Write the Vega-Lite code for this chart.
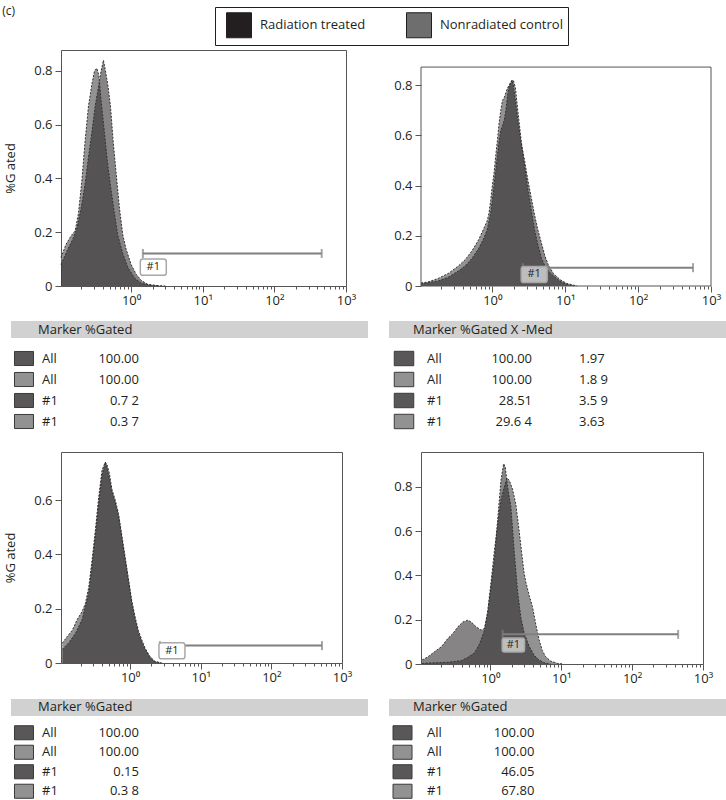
{
"$schema": "https://vega.github.io/schema/vega-lite/v6.json",
"padding": {"left": 2, "top": 4, "right": 0, "bottom": 0},
"title": {"text": "(c)", "anchor": "start", "frame": "bounds", "fontSize": 12, "fontWeight": "normal", "font": "Open Sans", "color": "#231f20", "offset": -11, "dx": -2},
"config": {
  "font": "Open Sans",
  "view": {"stroke": "#555555", "strokeWidth": 1},
  "axis": {"domain": false, "grid": false, "labelFont": "Open Sans", "labelFontSize": 13, "labelColor": "#231f20", "tickColor": "#555555", "titleFont": "Open Sans", "titleFontWeight": "normal", "titleFontSize": 13, "titleColor": "#231f20"}
},
"datasets": {
  "hist": [
    {"p":"TL","s":"Nonradiated control","x":0.105,"y":0.106},
    {"p":"TL","s":"Nonradiated control","x":0.124,"y":0.156},
    {"p":"TL","s":"Nonradiated control","x":0.1455,"y":0.187},
    {"p":"TL","s":"Nonradiated control","x":0.1655,"y":0.205},
    {"p":"TL","s":"Nonradiated control","x":0.184,"y":0.27},
    {"p":"TL","s":"Nonradiated control","x":0.205,"y":0.39},
    {"p":"TL","s":"Nonradiated control","x":0.228,"y":0.54},
    {"p":"TL","s":"Nonradiated control","x":0.254,"y":0.67},
    {"p":"TL","s":"Nonradiated control","x":0.283,"y":0.75},
    {"p":"TL","s":"Nonradiated control","x":0.308,"y":0.80},
    {"p":"TL","s":"Nonradiated control","x":0.332,"y":0.81},
    {"p":"TL","s":"Nonradiated control","x":0.354,"y":0.785},
    {"p":"TL","s":"Nonradiated control","x":0.381,"y":0.69},
    {"p":"TL","s":"Nonradiated control","x":0.4245,"y":0.57},
    {"p":"TL","s":"Nonradiated control","x":0.472,"y":0.45},
    {"p":"TL","s":"Nonradiated control","x":0.526,"y":0.355},
    {"p":"TL","s":"Nonradiated control","x":0.585,"y":0.27},
    {"p":"TL","s":"Nonradiated control","x":0.651,"y":0.19},
    {"p":"TL","s":"Nonradiated control","x":0.766,"y":0.12},
    {"p":"TL","s":"Nonradiated control","x":0.898,"y":0.07},
    {"p":"TL","s":"Nonradiated control","x":1.113,"y":0.03},
    {"p":"TL","s":"Nonradiated control","x":1.379,"y":0.01},
    {"p":"TL","s":"Nonradiated control","x":1.9,"y":0.003},
    {"p":"TL","s":"Nonradiated control","x":3.0,"y":0},
    {"p":"TL","s":"Radiation treated","x":0.105,"y":0.08},
    {"p":"TL","s":"Radiation treated","x":0.1306,"y":0.137},
    {"p":"TL","s":"Radiation treated","x":0.1535,"y":0.174},
    {"p":"TL","s":"Radiation treated","x":0.1765,"y":0.218},
    {"p":"TL","s":"Radiation treated","x":0.2006,"y":0.29},
    {"p":"TL","s":"Radiation treated","x":0.228,"y":0.38},
    {"p":"TL","s":"Radiation treated","x":0.254,"y":0.48},
    {"p":"TL","s":"Radiation treated","x":0.283,"y":0.57},
    {"p":"TL","s":"Radiation treated","x":0.315,"y":0.67},
    {"p":"TL","s":"Radiation treated","x":0.35,"y":0.74},
    {"p":"TL","s":"Radiation treated","x":0.381,"y":0.80},
    {"p":"TL","s":"Radiation treated","x":0.411,"y":0.84},
    {"p":"TL","s":"Radiation treated","x":0.4385,"y":0.80},
    {"p":"TL","s":"Radiation treated","x":0.472,"y":0.75},
    {"p":"TL","s":"Radiation treated","x":0.515,"y":0.67},
    {"p":"TL","s":"Radiation treated","x":0.561,"y":0.54},
    {"p":"TL","s":"Radiation treated","x":0.6175,"y":0.42},
    {"p":"TL","s":"Radiation treated","x":0.687,"y":0.29},
    {"p":"TL","s":"Radiation treated","x":0.766,"y":0.19},
    {"p":"TL","s":"Radiation treated","x":0.8515,"y":0.137},
    {"p":"TL","s":"Radiation treated","x":1.0,"y":0.08},
    {"p":"TL","s":"Radiation treated","x":1.175,"y":0.044},
    {"p":"TL","s":"Radiation treated","x":1.379,"y":0.021},
    {"p":"TL","s":"Radiation treated","x":1.708,"y":0.006},
    {"p":"TL","s":"Radiation treated","x":2.5,"y":0},

    {"p":"TR","s":"Nonradiated control","x":0.105,"y":0.012},
    {"p":"TR","s":"Nonradiated control","x":0.1306,"y":0.016},
    {"p":"TR","s":"Nonradiated control","x":0.18,"y":0.03},
    {"p":"TR","s":"Nonradiated control","x":0.2485,"y":0.05},
    {"p":"TR","s":"Nonradiated control","x":0.3428,"y":0.08},
    {"p":"TR","s":"Nonradiated control","x":0.4245,"y":0.105},
    {"p":"TR","s":"Nonradiated control","x":0.526,"y":0.14},
    {"p":"TR","s":"Nonradiated control","x":0.6514,"y":0.185},
    {"p":"TR","s":"Nonradiated control","x":0.7655,"y":0.23},
    {"p":"TR","s":"Nonradiated control","x":0.8515,"y":0.26},
    {"p":"TR","s":"Nonradiated control","x":0.8985,"y":0.29},
    {"p":"TR","s":"Nonradiated control","x":0.948,"y":0.34},
    {"p":"TR","s":"Nonradiated control","x":1.0,"y":0.40},
    {"p":"TR","s":"Nonradiated control","x":1.055,"y":0.45},
    {"p":"TR","s":"Nonradiated control","x":1.113,"y":0.52},
    {"p":"TR","s":"Nonradiated control","x":1.174,"y":0.58},
    {"p":"TR","s":"Nonradiated control","x":1.239,"y":0.65},
    {"p":"TR","s":"Nonradiated control","x":1.307,"y":0.70},
    {"p":"TR","s":"Nonradiated control","x":1.379,"y":0.74},
    {"p":"TR","s":"Nonradiated control","x":1.455,"y":0.75},
    {"p":"TR","s":"Nonradiated control","x":1.535,"y":0.77},
    {"p":"TR","s":"Nonradiated control","x":1.619,"y":0.79},
    {"p":"TR","s":"Nonradiated control","x":1.708,"y":0.80},
    {"p":"TR","s":"Nonradiated control","x":1.802,"y":0.815},
    {"p":"TR","s":"Nonradiated control","x":1.942,"y":0.82},
    {"p":"TR","s":"Nonradiated control","x":2.071,"y":0.79},
    {"p":"TR","s":"Nonradiated control","x":2.233,"y":0.70},
    {"p":"TR","s":"Nonradiated control","x":2.485,"y":0.58},
    {"p":"TR","s":"Nonradiated control","x":2.766,"y":0.48},
    {"p":"TR","s":"Nonradiated control","x":3.079,"y":0.38},
    {"p":"TR","s":"Nonradiated control","x":3.427,"y":0.30},
    {"p":"TR","s":"Nonradiated control","x":3.814,"y":0.22},
    {"p":"TR","s":"Nonradiated control","x":4.245,"y":0.16},
    {"p":"TR","s":"Nonradiated control","x":4.724,"y":0.11},
    {"p":"TR","s":"Nonradiated control","x":5.258,"y":0.08},
    {"p":"TR","s":"Nonradiated control","x":5.852,"y":0.06},
    {"p":"TR","s":"Nonradiated control","x":6.872,"y":0.04},
    {"p":"TR","s":"Nonradiated control","x":8.516,"y":0.018},
    {"p":"TR","s":"Nonradiated control","x":10.55,"y":0.006},
    {"p":"TR","s":"Nonradiated control","x":13.07,"y":0},
    {"p":"TR","s":"Radiation treated","x":0.105,"y":0.008},
    {"p":"TR","s":"Radiation treated","x":0.1803,"y":0.02},
    {"p":"TR","s":"Radiation treated","x":0.2485,"y":0.035},
    {"p":"TR","s":"Radiation treated","x":0.3428,"y":0.06},
    {"p":"TR","s":"Radiation treated","x":0.4245,"y":0.08},
    {"p":"TR","s":"Radiation treated","x":0.526,"y":0.11},
    {"p":"TR","s":"Radiation treated","x":0.6514,"y":0.15},
    {"p":"TR","s":"Radiation treated","x":0.7655,"y":0.19},
    {"p":"TR","s":"Radiation treated","x":0.8515,"y":0.225},
    {"p":"TR","s":"Radiation treated","x":0.948,"y":0.29},
    {"p":"TR","s":"Radiation treated","x":1.0,"y":0.34},
    {"p":"TR","s":"Radiation treated","x":1.055,"y":0.40},
    {"p":"TR","s":"Radiation treated","x":1.113,"y":0.46},
    {"p":"TR","s":"Radiation treated","x":1.174,"y":0.52},
    {"p":"TR","s":"Radiation treated","x":1.239,"y":0.58},
    {"p":"TR","s":"Radiation treated","x":1.307,"y":0.62},
    {"p":"TR","s":"Radiation treated","x":1.379,"y":0.64},
    {"p":"TR","s":"Radiation treated","x":1.455,"y":0.66},
    {"p":"TR","s":"Radiation treated","x":1.535,"y":0.70},
    {"p":"TR","s":"Radiation treated","x":1.619,"y":0.76},
    {"p":"TR","s":"Radiation treated","x":1.708,"y":0.80},
    {"p":"TR","s":"Radiation treated","x":1.802,"y":0.81},
    {"p":"TR","s":"Radiation treated","x":1.861,"y":0.82},
    {"p":"TR","s":"Radiation treated","x":1.942,"y":0.80},
    {"p":"TR","s":"Radiation treated","x":2.071,"y":0.74},
    {"p":"TR","s":"Radiation treated","x":2.233,"y":0.66},
    {"p":"TR","s":"Radiation treated","x":2.485,"y":0.57},
    {"p":"TR","s":"Radiation treated","x":2.766,"y":0.50},
    {"p":"TR","s":"Radiation treated","x":3.079,"y":0.42},
    {"p":"TR","s":"Radiation treated","x":3.427,"y":0.35},
    {"p":"TR","s":"Radiation treated","x":3.814,"y":0.28},
    {"p":"TR","s":"Radiation treated","x":4.245,"y":0.22},
    {"p":"TR","s":"Radiation treated","x":4.724,"y":0.17},
    {"p":"TR","s":"Radiation treated","x":5.258,"y":0.12},
    {"p":"TR","s":"Radiation treated","x":5.852,"y":0.085},
    {"p":"TR","s":"Radiation treated","x":6.872,"y":0.05},
    {"p":"TR","s":"Radiation treated","x":8.516,"y":0.025},
    {"p":"TR","s":"Radiation treated","x":10.55,"y":0.01},
    {"p":"TR","s":"Radiation treated","x":14.55,"y":0},

    {"p":"BL","s":"Nonradiated control","x":0.1096,"y":0.073},
    {"p":"BL","s":"Nonradiated control","x":0.1288,"y":0.098},
    {"p":"BL","s":"Nonradiated control","x":0.1514,"y":0.12},
    {"p":"BL","s":"Nonradiated control","x":0.178,"y":0.16},
    {"p":"BL","s":"Nonradiated control","x":0.2094,"y":0.19},
    {"p":"BL","s":"Nonradiated control","x":0.2332,"y":0.22},
    {"p":"BL","s":"Nonradiated control","x":0.2598,"y":0.28},
    {"p":"BL","s":"Nonradiated control","x":0.2893,"y":0.38},
    {"p":"BL","s":"Nonradiated control","x":0.3223,"y":0.49},
    {"p":"BL","s":"Nonradiated control","x":0.3589,"y":0.61},
    {"p":"BL","s":"Nonradiated control","x":0.3998,"y":0.71},
    {"p":"BL","s":"Nonradiated control","x":0.4453,"y":0.74},
    {"p":"BL","s":"Nonradiated control","x":0.47,"y":0.73},
    {"p":"BL","s":"Nonradiated control","x":0.507,"y":0.70},
    {"p":"BL","s":"Nonradiated control","x":0.5523,"y":0.64},
    {"p":"BL","s":"Nonradiated control","x":0.6152,"y":0.60},
    {"p":"BL","s":"Nonradiated control","x":0.6853,"y":0.55},
    {"p":"BL","s":"Nonradiated control","x":0.7633,"y":0.47},
    {"p":"BL","s":"Nonradiated control","x":0.8502,"y":0.39},
    {"p":"BL","s":"Nonradiated control","x":0.9475,"y":0.31},
    {"p":"BL","s":"Nonradiated control","x":1.055,"y":0.23},
    {"p":"BL","s":"Nonradiated control","x":1.175,"y":0.17},
    {"p":"BL","s":"Nonradiated control","x":1.309,"y":0.12},
    {"p":"BL","s":"Nonradiated control","x":1.458,"y":0.086},
    {"p":"BL","s":"Nonradiated control","x":1.625,"y":0.055},
    {"p":"BL","s":"Nonradiated control","x":1.91,"y":0.024},
    {"p":"BL","s":"Nonradiated control","x":2.245,"y":0.006},
    {"p":"BL","s":"Nonradiated control","x":2.786,"y":0},
    {"p":"BL","s":"Radiation treated","x":0.1096,"y":0.05},
    {"p":"BL","s":"Radiation treated","x":0.136,"y":0.075},
    {"p":"BL","s":"Radiation treated","x":0.1687,"y":0.11},
    {"p":"BL","s":"Radiation treated","x":0.2094,"y":0.16},
    {"p":"BL","s":"Radiation treated","x":0.2598,"y":0.26},
    {"p":"BL","s":"Radiation treated","x":0.2893,"y":0.36},
    {"p":"BL","s":"Radiation treated","x":0.3223,"y":0.47},
    {"p":"BL","s":"Radiation treated","x":0.3589,"y":0.59},
    {"p":"BL","s":"Radiation treated","x":0.3998,"y":0.69},
    {"p":"BL","s":"Radiation treated","x":0.4453,"y":0.74},
    {"p":"BL","s":"Radiation treated","x":0.47,"y":0.72},
    {"p":"BL","s":"Radiation treated","x":0.507,"y":0.68},
    {"p":"BL","s":"Radiation treated","x":0.5523,"y":0.63},
    {"p":"BL","s":"Radiation treated","x":0.6152,"y":0.59},
    {"p":"BL","s":"Radiation treated","x":0.6853,"y":0.54},
    {"p":"BL","s":"Radiation treated","x":0.7633,"y":0.46},
    {"p":"BL","s":"Radiation treated","x":0.8502,"y":0.38},
    {"p":"BL","s":"Radiation treated","x":0.9475,"y":0.30},
    {"p":"BL","s":"Radiation treated","x":1.055,"y":0.22},
    {"p":"BL","s":"Radiation treated","x":1.175,"y":0.16},
    {"p":"BL","s":"Radiation treated","x":1.309,"y":0.11},
    {"p":"BL","s":"Radiation treated","x":1.458,"y":0.078},
    {"p":"BL","s":"Radiation treated","x":1.625,"y":0.05},
    {"p":"BL","s":"Radiation treated","x":1.91,"y":0.02},
    {"p":"BL","s":"Radiation treated","x":2.245,"y":0.004},
    {"p":"BL","s":"Radiation treated","x":2.786,"y":0},

    {"p":"BR","s":"Nonradiated control","x":0.1089,"y":0.003},
    {"p":"BR","s":"Nonradiated control","x":0.2522,"y":0.008},
    {"p":"BR","s":"Nonradiated control","x":0.388,"y":0.015},
    {"p":"BR","s":"Nonradiated control","x":0.4809,"y":0.03},
    {"p":"BR","s":"Nonradiated control","x":0.5966,"y":0.05},
    {"p":"BR","s":"Nonradiated control","x":0.7011,"y":0.09},
    {"p":"BR","s":"Nonradiated control","x":0.8238,"y":0.15},
    {"p":"BR","s":"Nonradiated control","x":0.9175,"y":0.24},
    {"p":"BR","s":"Nonradiated control","x":1.022,"y":0.37},
    {"p":"BR","s":"Nonradiated control","x":1.138,"y":0.51},
    {"p":"BR","s":"Nonradiated control","x":1.267,"y":0.63},
    {"p":"BR","s":"Nonradiated control","x":1.411,"y":0.74},
    {"p":"BR","s":"Nonradiated control","x":1.571,"y":0.80},
    {"p":"BR","s":"Nonradiated control","x":1.713,"y":0.84},
    {"p":"BR","s":"Nonradiated control","x":1.846,"y":0.83},
    {"p":"BR","s":"Nonradiated control","x":2.056,"y":0.79},
    {"p":"BR","s":"Nonradiated control","x":2.29,"y":0.72},
    {"p":"BR","s":"Nonradiated control","x":2.55,"y":0.60},
    {"p":"BR","s":"Nonradiated control","x":2.84,"y":0.47},
    {"p":"BR","s":"Nonradiated control","x":2.997,"y":0.41},
    {"p":"BR","s":"Nonradiated control","x":3.163,"y":0.37},
    {"p":"BR","s":"Nonradiated control","x":3.523,"y":0.31},
    {"p":"BR","s":"Nonradiated control","x":3.922,"y":0.26},
    {"p":"BR","s":"Nonradiated control","x":4.368,"y":0.18},
    {"p":"BR","s":"Nonradiated control","x":4.863,"y":0.11},
    {"p":"BR","s":"Nonradiated control","x":5.417,"y":0.06},
    {"p":"BR","s":"Nonradiated control","x":6.033,"y":0.033},
    {"p":"BR","s":"Nonradiated control","x":7.088,"y":0.013},
    {"p":"BR","s":"Nonradiated control","x":8.787,"y":0.003},
    {"p":"BR","s":"Nonradiated control","x":10.5,"y":0},
    {"p":"BR","s":"Radiation treated","x":0.1089,"y":0.018},
    {"p":"BR","s":"Radiation treated","x":0.1322,"y":0.033},
    {"p":"BR","s":"Radiation treated","x":0.1641,"y":0.056},
    {"p":"BR","s":"Radiation treated","x":0.2034,"y":0.078},
    {"p":"BR","s":"Radiation treated","x":0.2522,"y":0.116},
    {"p":"BR","s":"Radiation treated","x":0.2965,"y":0.138},
    {"p":"BR","s":"Radiation treated","x":0.3484,"y":0.168},
    {"p":"BR","s":"Radiation treated","x":0.4093,"y":0.19},
    {"p":"BR","s":"Radiation treated","x":0.4809,"y":0.198},
    {"p":"BR","s":"Radiation treated","x":0.5357,"y":0.19},
    {"p":"BR","s":"Radiation treated","x":0.6296,"y":0.168},
    {"p":"BR","s":"Radiation treated","x":0.7398,"y":0.153},
    {"p":"BR","s":"Radiation treated","x":0.8238,"y":0.16},
    {"p":"BR","s":"Radiation treated","x":0.9175,"y":0.23},
    {"p":"BR","s":"Radiation treated","x":1.022,"y":0.35},
    {"p":"BR","s":"Radiation treated","x":1.138,"y":0.47},
    {"p":"BR","s":"Radiation treated","x":1.267,"y":0.65},
    {"p":"BR","s":"Radiation treated","x":1.411,"y":0.83},
    {"p":"BR","s":"Radiation treated","x":1.538,"y":0.905},
    {"p":"BR","s":"Radiation treated","x":1.622,"y":0.89},
    {"p":"BR","s":"Radiation treated","x":1.75,"y":0.80},
    {"p":"BR","s":"Radiation treated","x":1.949,"y":0.71},
    {"p":"BR","s":"Radiation treated","x":2.17,"y":0.51},
    {"p":"BR","s":"Radiation treated","x":2.417,"y":0.33},
    {"p":"BR","s":"Radiation treated","x":2.692,"y":0.21},
    {"p":"BR","s":"Radiation treated","x":2.997,"y":0.14},
    {"p":"BR","s":"Radiation treated","x":3.523,"y":0.08},
    {"p":"BR","s":"Radiation treated","x":4.139,"y":0.04},
    {"p":"BR","s":"Radiation treated","x":4.863,"y":0.018},
    {"p":"BR","s":"Radiation treated","x":5.716,"y":0.006},
    {"p":"BR","s":"Radiation treated","x":7.088,"y":0}
  ],
  "markers": [
    {"p":"TL","x1":1.46,"x2":458,"y":0.121,"lx":2.04,"ly":0.07},
    {"p":"TR","x1":2.62,"x2":567,"y":0.073,"lx":3.75,"ly":0.046},
    {"p":"BL","x1":2.64,"x2":521,"y":0.064,"lx":3.91,"ly":0.045},
    {"p":"BR","x1":1.49,"x2":446,"y":0.134,"lx":2.11,"ly":0.086}
  ],
  "headers": [
    {"p":"TL","h":"Marker %Gated"},
    {"p":"TR","h":"Marker %Gated X -Med"},
    {"p":"BL","h":"Marker %Gated"},
    {"p":"BR","h":"Marker %Gated"}
  ],
  "tables": [
    {"p":"TL","r":1,"s":"Radiation treated","m":"All","g":"100.00","md":""},
    {"p":"TL","r":2,"s":"Nonradiated control","m":"All","g":"100.00","md":""},
    {"p":"TL","r":3,"s":"Radiation treated","m":"#1","g":"0.7 2","md":""},
    {"p":"TL","r":4,"s":"Nonradiated control","m":"#1","g":"0.3 7","md":""},
    {"p":"TR","r":1,"s":"Radiation treated","m":"All","g":"100.00","md":"1.97"},
    {"p":"TR","r":2,"s":"Nonradiated control","m":"All","g":"100.00","md":"1.8 9"},
    {"p":"TR","r":3,"s":"Radiation treated","m":"#1","g":"28.51","md":"3.5 9"},
    {"p":"TR","r":4,"s":"Nonradiated control","m":"#1","g":"29.6 4","md":"3.63"},
    {"p":"BL","r":1,"s":"Radiation treated","m":"All","g":"100.00","md":""},
    {"p":"BL","r":2,"s":"Nonradiated control","m":"All","g":"100.00","md":""},
    {"p":"BL","r":3,"s":"Radiation treated","m":"#1","g":"0.15","md":""},
    {"p":"BL","r":4,"s":"Nonradiated control","m":"#1","g":"0.3 8","md":""},
    {"p":"BR","r":1,"s":"Radiation treated","m":"All","g":"100.00","md":""},
    {"p":"BR","r":2,"s":"Nonradiated control","m":"All","g":"100.00","md":""},
    {"p":"BR","r":3,"s":"Radiation treated","m":"#1","g":"46.05","md":""},
    {"p":"BR","r":4,"s":"Nonradiated control","m":"#1","g":"67.80","md":""}
  ]
},
"columns": 2,
"bounds": "flush",
"spacing": {"row": 20, "column": 75},
"concat": [
  {
    "width": 285, "height": 236,
    "layer": [
      {"data": {"name": "hist"}, "transform": [{"filter": "datum.p == 'TL' && datum.s == 'Nonradiated control'"}],
       "mark": {"type": "area", "fillOpacity": 0.75},
       "encoding": {
         "x": {"field": "x", "type": "quantitative", "scale": {"type": "log", "domain": [0.105, 1000], "nice": false}, "axis": {"title": null, "values": [0.2,0.3,0.4,0.5,0.6,0.7,0.8,0.9,1,2,3,4,5,6,7,8,9,10,20,30,40,50,60,70,80,90,100,200,300,400,500,600,700,800,900,1000], "labelExpr": "datum.value == 1 ? '10⁰' : datum.value == 10 ? '10¹' : datum.value == 100 ? '10²' : datum.value == 1000 ? '10³' : ''", "tickSize": {"condition": {"test": "datum.value == 1 || datum.value == 10 || datum.value == 100 || datum.value == 1000", "value": 6}, "value": 3}, "labelPadding": 2, "labelFlush": false, "labelOverlap": false, "labelBound": false}},
         "y": {"field": "y", "type": "quantitative", "title": "%G ated", "scale": {"domain": [0, 0.878], "nice": false, "zero": true}, "axis": {"title": "%G ated", "titlePadding": 16, "values": [0,0.1,0.2,0.3,0.4,0.5,0.6,0.7,0.8], "labelExpr": "datum.value == 0 ? '0' : (round(datum.value*10) % 2 == 0 ? format(datum.value, '.1f') : '')", "tickSize": {"condition": {"test": "round(datum.value*10) % 2 == 0", "value": 6}, "value": 4}, "labelPadding": 3}},
         "fill": {"field": "s", "type": "nominal", "scale": {"domain": ["Radiation treated", "Nonradiated control"], "range": ["#231f20", "#6e6e6e"]}, "legend": {"title": null, "orient": "none", "legendX": 154, "legendY": -43, "direction": "horizontal", "strokeColor": "#231f20", "padding": 5, "symbolType": "square", "symbolSize": 625, "symbolStrokeColor": "#231f20", "symbolStrokeWidth": 1, "symbolOpacity": 1, "labelFontSize": 13, "labelFont": "Open Sans", "labelColor": "#231f20", "labelOffset": 8, "columnPadding": 34, "symbolOffset": 6}}
       }},
      {"data": {"name": "hist"}, "transform": [{"filter": "datum.p == 'TL' && datum.s == 'Radiation treated'"}],
       "mark": {"type": "area", "fillOpacity": 0.55},
       "encoding": {"x": {"field": "x", "type": "quantitative"}, "y": {"field": "y", "type": "quantitative", "title": "%G ated"}, "fill": {"field": "s", "type": "nominal"}}},
      {"data": {"name": "hist"}, "transform": [{"filter": "datum.p == 'TL'"}],
       "mark": {"type": "line", "color": "#333333", "strokeWidth": 1, "strokeDash": [2, 1.5]},
       "encoding": {"x": {"field": "x", "type": "quantitative"}, "y": {"field": "y", "type": "quantitative", "title": "%G ated"}, "detail": {"field": "s"}}},
      {"data": {"name": "markers"}, "transform": [{"filter": "datum.p == 'TL'"}],
       "mark": {"type": "rule", "color": "#808080", "strokeWidth": 2},
       "encoding": {"x": {"field": "x1", "type": "quantitative"}, "x2": {"field": "x2"}, "y": {"field": "y", "type": "quantitative", "title": "%G ated"}}},
      {"data": {"name": "markers"}, "transform": [{"filter": "datum.p == 'TL'"}, {"fold": ["x1", "x2"], "as": ["k", "v"]}],
       "mark": {"type": "tick", "orient": "vertical", "size": 9, "thickness": 2, "color": "#808080"},
       "encoding": {"x": {"field": "v", "type": "quantitative"}, "y": {"field": "y", "type": "quantitative", "title": "%G ated"}}},
      {"data": {"name": "markers"}, "transform": [{"filter": "datum.p == 'TL'"}],
       "mark": {"type": "point", "filled": true, "shape": "M-0.8,-0.62H0.8Q1,-0.62 1,-0.42V0.42Q1,0.62 0.8,0.62H-0.8Q-1,0.62 -1,0.42V-0.42Q-1,-0.62 -0.8,-0.62Z", "size": 676, "fill": "#ffffff", "stroke": "#a8a8a8", "strokeWidth": 1.5, "opacity": 1},
       "encoding": {"x": {"field": "lx", "type": "quantitative"}, "y": {"field": "ly", "type": "quantitative", "title": "%G ated"}}},
      {"data": {"name": "markers"}, "transform": [{"filter": "datum.p == 'TL'"}],
       "mark": {"type": "text", "fontSize": 11, "color": "#231f20", "align": "center", "baseline": "middle"},
       "encoding": {"x": {"field": "lx", "type": "quantitative"}, "y": {"field": "ly", "type": "quantitative", "title": "%G ated"}, "text": {"value": "#1"}}}
    ]
  },
  {
    "width": 290, "height": 236,
    "view": {"stroke": null},
    "layer": [
      {"data": {"name": "hist"}, "transform": [{"filter": "datum.p == 'TR' && datum.s == 'Nonradiated control'"}],
       "mark": {"type": "area", "fillOpacity": 0.75},
       "encoding": {
         "x": {"field": "x", "type": "quantitative", "scale": {"type": "log", "domain": [0.105, 1000], "nice": false}, "axis": {"title": null, "values": [0.2,0.3,0.4,0.5,0.6,0.7,0.8,0.9,1,2,3,4,5,6,7,8,9,10,20,30,40,50,60,70,80,90,100,200,300,400,500,600,700,800,900,1000], "labelExpr": "datum.value == 1 ? '10⁰' : datum.value == 10 ? '10¹' : datum.value == 100 ? '10²' : datum.value == 1000 ? '10³' : ''", "tickSize": {"condition": {"test": "datum.value == 1 || datum.value == 10 || datum.value == 100 || datum.value == 1000", "value": 6}, "value": 3}, "labelPadding": 2, "labelFlush": false, "labelOverlap": false, "labelBound": false}},
         "y": {"field": "y", "type": "quantitative", "scale": {"domain": [0, 0.94], "nice": false, "zero": true}, "axis": {"title": null, "values": [0,0.1,0.2,0.3,0.4,0.5,0.6,0.7,0.8], "labelExpr": "datum.value == 0 ? '0' : (round(datum.value*10) % 2 == 0 ? format(datum.value, '.1f') : '')", "tickSize": {"condition": {"test": "round(datum.value*10) % 2 == 0", "value": 6}, "value": 4}, "labelPadding": 3}},
         "fill": {"field": "s", "type": "nominal", "scale": {"domain": ["Radiation treated", "Nonradiated control"], "range": ["#231f20", "#6e6e6e"]}, "legend": {"title": null, "orient": "none", "legendX": 154, "legendY": -43, "direction": "horizontal", "strokeColor": "#231f20", "padding": 5, "symbolType": "square", "symbolSize": 625, "symbolStrokeColor": "#231f20", "symbolStrokeWidth": 1, "symbolOpacity": 1, "labelFontSize": 13, "labelFont": "Open Sans", "labelColor": "#231f20", "labelOffset": 8, "columnPadding": 34, "symbolOffset": 6}}
       }},
      {"data": {"name": "hist"}, "transform": [{"filter": "datum.p == 'TR' && datum.s == 'Radiation treated'"}],
       "mark": {"type": "area", "fillOpacity": 0.55},
       "encoding": {"x": {"field": "x", "type": "quantitative", "title": null}, "y": {"field": "y", "type": "quantitative", "title": null}, "fill": {"field": "s", "type": "nominal"}}},
      {"data": {"name": "hist"}, "transform": [{"filter": "datum.p == 'TR'"}],
       "mark": {"type": "line", "color": "#333333", "strokeWidth": 1, "strokeDash": [2, 1.5]},
       "encoding": {"x": {"field": "x", "type": "quantitative", "title": null}, "y": {"field": "y", "type": "quantitative", "title": null}, "detail": {"field": "s"}}},
      {"data": {"values": [{"frame": "plot"}]},
       "mark": {"type": "rect", "filled": false, "color": "#555555", "strokeWidth": 1},
       "encoding": {"x": {"datum": 0.105, "type": "quantitative"}, "x2": {"datum": 1000}, "y": {"datum": 0, "type": "quantitative"}, "y2": {"datum": 0.872}}},
      {"data": {"name": "markers"}, "transform": [{"filter": "datum.p == 'TR'"}],
       "mark": {"type": "rule", "color": "#808080", "strokeWidth": 2},
       "encoding": {"x": {"field": "x1", "type": "quantitative", "title": null}, "x2": {"field": "x2"}, "y": {"field": "y", "type": "quantitative", "title": null}}},
      {"data": {"name": "markers"}, "transform": [{"filter": "datum.p == 'TR'"}, {"fold": ["x1", "x2"], "as": ["k", "v"]}],
       "mark": {"type": "tick", "orient": "vertical", "size": 9, "thickness": 2, "color": "#808080"},
       "encoding": {"x": {"field": "v", "type": "quantitative", "title": null}, "y": {"field": "y", "type": "quantitative", "title": null}}},
      {"data": {"name": "markers"}, "transform": [{"filter": "datum.p == 'TR'"}],
       "mark": {"type": "point", "filled": true, "shape": "M-0.8,-0.62H0.8Q1,-0.62 1,-0.42V0.42Q1,0.62 0.8,0.62H-0.8Q-1,0.62 -1,0.42V-0.42Q-1,-0.62 -0.8,-0.62Z", "size": 676, "fill": "#bdbdbd", "stroke": "#a8a8a8", "strokeWidth": 1.5, "opacity": 1},
       "encoding": {"x": {"field": "lx", "type": "quantitative", "title": null}, "y": {"field": "ly", "type": "quantitative", "title": null}}},
      {"data": {"name": "markers"}, "transform": [{"filter": "datum.p == 'TR'"}],
       "mark": {"type": "text", "fontSize": 11, "color": "#231f20", "align": "center", "baseline": "middle"},
       "encoding": {"x": {"field": "lx", "type": "quantitative", "title": null}, "y": {"field": "ly", "type": "quantitative", "title": null}, "text": {"value": "#1"}}}
    ]
  },
  {
    "width": 281, "height": 126,
    "view": {"stroke": null},
    "layer": [
      {"data": {"name": "headers"}, "transform": [{"filter": "datum.p == 'TL'"}],
       "mark": {"type": "rect", "color": "#d1d1d1"},
       "encoding": {"x": {"datum": 0, "type": "quantitative", "scale": {"domain": [0, 100], "range": [-50, 307]}, "axis": null}, "x2": {"datum": 100}, "y": {"datum": -0.786, "type": "quantitative", "scale": {"domain": [-1.5, 4.5], "reverse": true}, "axis": null}, "y2": {"datum": 0.024}}},
      {"data": {"name": "headers"}, "transform": [{"filter": "datum.p == 'TL'"}],
       "mark": {"type": "text", "align": "left", "baseline": "middle", "fontSize": 13, "color": "#231f20"},
       "encoding": {"x": {"datum": 7.56, "type": "quantitative"}, "y": {"datum": -0.38, "type": "quantitative"}, "text": {"field": "h"}}},
      {"data": {"name": "tables"}, "transform": [{"filter": "datum.p == 'TL'"}],
       "mark": {"type": "point", "filled": true, "shape": "M-1,-0.74H1V0.74H-1Z", "size": 361, "fillOpacity": 0.75, "stroke": "#3a3a3a", "strokeWidth": 1, "strokeOpacity": 1},
       "encoding": {"x": {"datum": 3.64, "type": "quantitative"}, "y": {"field": "r", "type": "quantitative"}, "fill": {"field": "s", "type": "nominal", "legend": {"title": null, "orient": "none", "legendX": 154, "legendY": -43, "direction": "horizontal", "strokeColor": "#231f20", "padding": 5, "symbolType": "square", "symbolSize": 625, "symbolStrokeColor": "#231f20", "symbolStrokeWidth": 1, "symbolOpacity": 1, "labelFontSize": 13, "labelFont": "Open Sans", "labelColor": "#231f20", "labelOffset": 8, "columnPadding": 34, "symbolOffset": 6}}}},
      {"data": {"name": "tables"}, "transform": [{"filter": "datum.p == 'TL'"}],
       "mark": {"type": "text", "align": "left", "baseline": "middle", "fontSize": 13, "color": "#231f20"},
       "encoding": {"x": {"datum": 8.68, "type": "quantitative"}, "y": {"field": "r", "type": "quantitative"}, "text": {"field": "m"}}},
      {"data": {"name": "tables"}, "transform": [{"filter": "datum.p == 'TL'"}],
       "mark": {"type": "text", "align": "right", "baseline": "middle", "fontSize": 13, "color": "#231f20"},
       "encoding": {"x": {"datum": 35.85, "type": "quantitative"}, "y": {"field": "r", "type": "quantitative"}, "text": {"field": "g"}}}
    ]
  },
  {
    "width": 290, "height": 126,
    "view": {"stroke": null},
    "layer": [
      {"data": {"name": "headers"}, "transform": [{"filter": "datum.p == 'TR'"}],
       "mark": {"type": "rect", "color": "#d1d1d1"},
       "encoding": {"x": {"datum": 0, "type": "quantitative", "scale": {"domain": [0, 100], "range": [-32, 306]}, "axis": null}, "x2": {"datum": 100}, "y": {"datum": -0.786, "type": "quantitative", "scale": {"domain": [-1.5, 4.5], "reverse": true}, "axis": null}, "y2": {"datum": 0.024}}},
      {"data": {"name": "headers"}, "transform": [{"filter": "datum.p == 'TR'"}],
       "mark": {"type": "text", "align": "left", "baseline": "middle", "fontSize": 13, "color": "#231f20"},
       "encoding": {"x": {"datum": 7.1, "type": "quantitative"}, "y": {"datum": -0.38, "type": "quantitative"}, "text": {"field": "h"}}},
      {"data": {"name": "tables"}, "transform": [{"filter": "datum.p == 'TR'"}],
       "mark": {"type": "point", "filled": true, "shape": "M-1,-0.74H1V0.74H-1Z", "size": 380, "fillOpacity": 0.75, "stroke": "#3a3a3a", "strokeWidth": 1, "strokeOpacity": 1},
       "encoding": {"x": {"datum": 4.44, "type": "quantitative"}, "y": {"field": "r", "type": "quantitative"}, "fill": {"field": "s", "type": "nominal", "legend": {"title": null, "orient": "none", "legendX": 154, "legendY": -43, "direction": "horizontal", "strokeColor": "#231f20", "padding": 5, "symbolType": "square", "symbolSize": 625, "symbolStrokeColor": "#231f20", "symbolStrokeWidth": 1, "symbolOpacity": 1, "labelFontSize": 13, "labelFont": "Open Sans", "labelColor": "#231f20", "labelOffset": 8, "columnPadding": 34, "symbolOffset": 6}}}},
      {"data": {"name": "tables"}, "transform": [{"filter": "datum.p == 'TR'"}],
       "mark": {"type": "text", "align": "left", "baseline": "middle", "fontSize": 13, "color": "#231f20"},
       "encoding": {"x": {"datum": 11.24, "type": "quantitative"}, "y": {"field": "r", "type": "quantitative"}, "text": {"field": "m"}}},
      {"data": {"name": "tables"}, "transform": [{"filter": "datum.p == 'TR'"}],
       "mark": {"type": "text", "align": "right", "baseline": "middle", "fontSize": 13, "color": "#231f20"},
       "encoding": {"x": {"datum": 42.31, "type": "quantitative"}, "y": {"field": "r", "type": "quantitative"}, "text": {"field": "g"}}},
      {"data": {"name": "tables"}, "transform": [{"filter": "datum.p == 'TR'"}],
       "mark": {"type": "text", "align": "left", "baseline": "middle", "fontSize": 13, "color": "#231f20"},
       "encoding": {"x": {"datum": 56.2, "type": "quantitative"}, "y": {"field": "r", "type": "quantitative"}, "text": {"field": "md"}}}
    ]
  },
  {
    "width": 281, "height": 211,
    "layer": [
      {"data": {"name": "hist"}, "transform": [{"filter": "datum.p == 'BL' && datum.s == 'Nonradiated control'"}],
       "mark": {"type": "area", "fillOpacity": 0.75},
       "encoding": {
         "x": {"field": "x", "type": "quantitative", "scale": {"type": "log", "domain": [0.105, 1000], "nice": false}, "axis": {"title": null, "values": [0.2,0.3,0.4,0.5,0.6,0.7,0.8,0.9,1,2,3,4,5,6,7,8,9,10,20,30,40,50,60,70,80,90,100,200,300,400,500,600,700,800,900,1000], "labelExpr": "datum.value == 1 ? '10⁰' : datum.value == 10 ? '10¹' : datum.value == 100 ? '10²' : datum.value == 1000 ? '10³' : ''", "tickSize": {"condition": {"test": "datum.value == 1 || datum.value == 10 || datum.value == 100 || datum.value == 1000", "value": 6}, "value": 3}, "labelPadding": 2, "labelFlush": false, "labelOverlap": false, "labelBound": false}},
         "y": {"field": "y", "type": "quantitative", "title": "%G ated", "scale": {"domain": [0, 0.777], "nice": false, "zero": true}, "axis": {"title": "%G ated", "titlePadding": 16, "values": [0,0.1,0.2,0.3,0.4,0.5,0.6,0.7], "labelExpr": "datum.value == 0 ? '0' : (round(datum.value*10) % 2 == 0 ? format(datum.value, '.1f') : '')", "tickSize": {"condition": {"test": "round(datum.value*10) % 2 == 0", "value": 6}, "value": 4}, "labelPadding": 3}},
         "fill": {"field": "s", "type": "nominal", "scale": {"domain": ["Radiation treated", "Nonradiated control"], "range": ["#231f20", "#6e6e6e"]}, "legend": {"title": null, "orient": "none", "legendX": 154, "legendY": -43, "direction": "horizontal", "strokeColor": "#231f20", "padding": 5, "symbolType": "square", "symbolSize": 625, "symbolStrokeColor": "#231f20", "symbolStrokeWidth": 1, "symbolOpacity": 1, "labelFontSize": 13, "labelFont": "Open Sans", "labelColor": "#231f20", "labelOffset": 8, "columnPadding": 34, "symbolOffset": 6}}
       }},
      {"data": {"name": "hist"}, "transform": [{"filter": "datum.p == 'BL' && datum.s == 'Radiation treated'"}],
       "mark": {"type": "area", "fillOpacity": 0.55},
       "encoding": {"x": {"field": "x", "type": "quantitative"}, "y": {"field": "y", "type": "quantitative", "title": "%G ated"}, "fill": {"field": "s", "type": "nominal"}}},
      {"data": {"name": "hist"}, "transform": [{"filter": "datum.p == 'BL'"}],
       "mark": {"type": "line", "color": "#333333", "strokeWidth": 1, "strokeDash": [2, 1.5]},
       "encoding": {"x": {"field": "x", "type": "quantitative"}, "y": {"field": "y", "type": "quantitative", "title": "%G ated"}, "detail": {"field": "s"}}},
      {"data": {"name": "markers"}, "transform": [{"filter": "datum.p == 'BL'"}],
       "mark": {"type": "rule", "color": "#808080", "strokeWidth": 2},
       "encoding": {"x": {"field": "x1", "type": "quantitative"}, "x2": {"field": "x2"}, "y": {"field": "y", "type": "quantitative", "title": "%G ated"}}},
      {"data": {"name": "markers"}, "transform": [{"filter": "datum.p == 'BL'"}, {"fold": ["x1", "x2"], "as": ["k", "v"]}],
       "mark": {"type": "tick", "orient": "vertical", "size": 9, "thickness": 2, "color": "#808080"},
       "encoding": {"x": {"field": "v", "type": "quantitative"}, "y": {"field": "y", "type": "quantitative", "title": "%G ated"}}},
      {"data": {"name": "markers"}, "transform": [{"filter": "datum.p == 'BL'"}],
       "mark": {"type": "point", "filled": true, "shape": "M-0.8,-0.62H0.8Q1,-0.62 1,-0.42V0.42Q1,0.62 0.8,0.62H-0.8Q-1,0.62 -1,0.42V-0.42Q-1,-0.62 -0.8,-0.62Z", "size": 676, "fill": "#ffffff", "stroke": "#a8a8a8", "strokeWidth": 1.5, "opacity": 1},
       "encoding": {"x": {"field": "lx", "type": "quantitative"}, "y": {"field": "ly", "type": "quantitative", "title": "%G ated"}}},
      {"data": {"name": "markers"}, "transform": [{"filter": "datum.p == 'BL'"}],
       "mark": {"type": "text", "fontSize": 11, "color": "#231f20", "align": "center", "baseline": "middle"},
       "encoding": {"x": {"field": "lx", "type": "quantitative"}, "y": {"field": "ly", "type": "quantitative", "title": "%G ated"}, "text": {"value": "#1"}}}
    ]
  },
  {
    "width": 282, "height": 212,
    "layer": [
      {"data": {"name": "hist"}, "transform": [{"filter": "datum.p == 'BR' && datum.s == 'Nonradiated control'"}],
       "mark": {"type": "area", "fillOpacity": 0.75},
       "encoding": {
         "x": {"field": "x", "type": "quantitative", "scale": {"type": "log", "domain": [0.105, 1000], "nice": false}, "axis": {"title": null, "values": [0.2,0.3,0.4,0.5,0.6,0.7,0.8,0.9,1,2,3,4,5,6,7,8,9,10,20,30,40,50,60,70,80,90,100,200,300,400,500,600,700,800,900,1000], "labelExpr": "datum.value == 1 ? '10⁰' : datum.value == 10 ? '10¹' : datum.value == 100 ? '10²' : datum.value == 1000 ? '10³' : ''", "tickSize": {"condition": {"test": "datum.value == 1 || datum.value == 10 || datum.value == 100 || datum.value == 1000", "value": 6}, "value": 3}, "labelPadding": 2, "labelFlush": false, "labelOverlap": false, "labelBound": false}},
         "y": {"field": "y", "type": "quantitative", "scale": {"domain": [0, 0.958], "nice": false, "zero": true}, "axis": {"title": null, "values": [0,0.1,0.2,0.3,0.4,0.5,0.6,0.7,0.8,0.9], "labelExpr": "datum.value == 0 ? '0' : (round(datum.value*10) % 2 == 0 ? format(datum.value, '.1f') : '')", "tickSize": {"condition": {"test": "round(datum.value*10) % 2 == 0", "value": 6}, "value": 4}, "labelPadding": 3}},
         "fill": {"field": "s", "type": "nominal", "scale": {"domain": ["Radiation treated", "Nonradiated control"], "range": ["#231f20", "#6e6e6e"]}, "legend": {"title": null, "orient": "none", "legendX": 154, "legendY": -43, "direction": "horizontal", "strokeColor": "#231f20", "padding": 5, "symbolType": "square", "symbolSize": 625, "symbolStrokeColor": "#231f20", "symbolStrokeWidth": 1, "symbolOpacity": 1, "labelFontSize": 13, "labelFont": "Open Sans", "labelColor": "#231f20", "labelOffset": 8, "columnPadding": 34, "symbolOffset": 6}}
       }},
      {"data": {"name": "hist"}, "transform": [{"filter": "datum.p == 'BR' && datum.s == 'Radiation treated'"}],
       "mark": {"type": "area", "fillOpacity": 0.55},
       "encoding": {"x": {"field": "x", "type": "quantitative", "title": null}, "y": {"field": "y", "type": "quantitative", "title": null}, "fill": {"field": "s", "type": "nominal"}}},
      {"data": {"name": "hist"}, "transform": [{"filter": "datum.p == 'BR'"}],
       "mark": {"type": "line", "color": "#333333", "strokeWidth": 1, "strokeDash": [2, 1.5]},
       "encoding": {"x": {"field": "x", "type": "quantitative", "title": null}, "y": {"field": "y", "type": "quantitative", "title": null}, "detail": {"field": "s"}}},
      {"data": {"name": "markers"}, "transform": [{"filter": "datum.p == 'BR'"}],
       "mark": {"type": "rule", "color": "#808080", "strokeWidth": 2},
       "encoding": {"x": {"field": "x1", "type": "quantitative", "title": null}, "x2": {"field": "x2"}, "y": {"field": "y", "type": "quantitative", "title": null}}},
      {"data": {"name": "markers"}, "transform": [{"filter": "datum.p == 'BR'"}, {"fold": ["x1", "x2"], "as": ["k", "v"]}],
       "mark": {"type": "tick", "orient": "vertical", "size": 9, "thickness": 2, "color": "#808080"},
       "encoding": {"x": {"field": "v", "type": "quantitative", "title": null}, "y": {"field": "y", "type": "quantitative", "title": null}}},
      {"data": {"name": "markers"}, "transform": [{"filter": "datum.p == 'BR'"}],
       "mark": {"type": "point", "filled": true, "shape": "M-0.8,-0.62H0.8Q1,-0.62 1,-0.42V0.42Q1,0.62 0.8,0.62H-0.8Q-1,0.62 -1,0.42V-0.42Q-1,-0.62 -0.8,-0.62Z", "size": 500, "fill": "#bdbdbd", "stroke": "#a8a8a8", "strokeWidth": 1.5, "opacity": 1},
       "encoding": {"x": {"field": "lx", "type": "quantitative", "title": null}, "y": {"field": "ly", "type": "quantitative", "title": null}}},
      {"data": {"name": "markers"}, "transform": [{"filter": "datum.p == 'BR'"}],
       "mark": {"type": "text", "fontSize": 11, "color": "#231f20", "align": "center", "baseline": "middle"},
       "encoding": {"x": {"field": "lx", "type": "quantitative", "title": null}, "y": {"field": "ly", "type": "quantitative", "title": null}, "text": {"value": "#1"}}}
    ]
  },
  {
    "width": 281, "height": 117,
    "view": {"stroke": null},
    "layer": [
      {"data": {"name": "headers"}, "transform": [{"filter": "datum.p == 'BL'"}],
       "mark": {"type": "rect", "color": "#d1d1d1"},
       "encoding": {"x": {"datum": 0, "type": "quantitative", "scale": {"domain": [0, 100], "range": [-50, 307]}, "axis": null}, "x2": {"datum": 100}, "y": {"datum": -0.73, "type": "quantitative", "scale": {"domain": [-1.5, 4.5], "reverse": true}, "axis": null}, "y2": {"datum": 0.14}}},
      {"data": {"name": "headers"}, "transform": [{"filter": "datum.p == 'BL'"}],
       "mark": {"type": "text", "align": "left", "baseline": "middle", "fontSize": 13, "color": "#231f20"},
       "encoding": {"x": {"datum": 7.56, "type": "quantitative"}, "y": {"datum": -0.31, "type": "quantitative"}, "text": {"field": "h"}}},
      {"data": {"name": "tables"}, "transform": [{"filter": "datum.p == 'BL'"}],
       "mark": {"type": "point", "filled": true, "shape": "M-1,-0.74H1V0.74H-1Z", "size": 361, "fillOpacity": 0.75, "stroke": "#3a3a3a", "strokeWidth": 1, "strokeOpacity": 1},
       "encoding": {"x": {"datum": 3.64, "type": "quantitative"}, "y": {"field": "r", "type": "quantitative"}, "fill": {"field": "s", "type": "nominal", "legend": {"title": null, "orient": "none", "legendX": 154, "legendY": -43, "direction": "horizontal", "strokeColor": "#231f20", "padding": 5, "symbolType": "square", "symbolSize": 625, "symbolStrokeColor": "#231f20", "symbolStrokeWidth": 1, "symbolOpacity": 1, "labelFontSize": 13, "labelFont": "Open Sans", "labelColor": "#231f20", "labelOffset": 8, "columnPadding": 34, "symbolOffset": 6}}}},
      {"data": {"name": "tables"}, "transform": [{"filter": "datum.p == 'BL'"}],
       "mark": {"type": "text", "align": "left", "baseline": "middle", "fontSize": 13, "color": "#231f20"},
       "encoding": {"x": {"datum": 8.68, "type": "quantitative"}, "y": {"field": "r", "type": "quantitative"}, "text": {"field": "m"}}},
      {"data": {"name": "tables"}, "transform": [{"filter": "datum.p == 'BL'"}],
       "mark": {"type": "text", "align": "right", "baseline": "middle", "fontSize": 13, "color": "#231f20"},
       "encoding": {"x": {"datum": 35.85, "type": "quantitative"}, "y": {"field": "r", "type": "quantitative"}, "text": {"field": "g"}}}
    ]
  },
  {
    "width": 290, "height": 117,
    "view": {"stroke": null},
    "layer": [
      {"data": {"name": "headers"}, "transform": [{"filter": "datum.p == 'BR'"}],
       "mark": {"type": "rect", "color": "#d1d1d1"},
       "encoding": {"x": {"datum": 0, "type": "quantitative", "scale": {"domain": [0, 100], "range": [-32, 306]}, "axis": null}, "x2": {"datum": 100}, "y": {"datum": -0.73, "type": "quantitative", "scale": {"domain": [-1.5, 4.5], "reverse": true}, "axis": null}, "y2": {"datum": 0.14}}},
      {"data": {"name": "headers"}, "transform": [{"filter": "datum.p == 'BR'"}],
       "mark": {"type": "text", "align": "left", "baseline": "middle", "fontSize": 13, "color": "#231f20"},
       "encoding": {"x": {"datum": 7.1, "type": "quantitative"}, "y": {"datum": -0.31, "type": "quantitative"}, "text": {"field": "h"}}},
      {"data": {"name": "tables"}, "transform": [{"filter": "datum.p == 'BR'"}],
       "mark": {"type": "point", "filled": true, "shape": "M-1,-0.74H1V0.74H-1Z", "size": 361, "fillOpacity": 0.75, "stroke": "#3a3a3a", "strokeWidth": 1, "strokeOpacity": 1},
       "encoding": {"x": {"datum": 4.0, "type": "quantitative"}, "y": {"field": "r", "type": "quantitative"}, "fill": {"field": "s", "type": "nominal", "legend": {"title": null, "orient": "none", "legendX": 154, "legendY": -43, "direction": "horizontal", "strokeColor": "#231f20", "padding": 5, "symbolType": "square", "symbolSize": 625, "symbolStrokeColor": "#231f20", "symbolStrokeWidth": 1, "symbolOpacity": 1, "labelFontSize": 13, "labelFont": "Open Sans", "labelColor": "#231f20", "labelOffset": 8, "columnPadding": 34, "symbolOffset": 6}}}},
      {"data": {"name": "tables"}, "transform": [{"filter": "datum.p == 'BR'"}],
       "mark": {"type": "text", "align": "left", "baseline": "middle", "fontSize": 13, "color": "#231f20"},
       "encoding": {"x": {"datum": 11.24, "type": "quantitative"}, "y": {"field": "r", "type": "quantitative"}, "text": {"field": "m"}}},
      {"data": {"name": "tables"}, "transform": [{"filter": "datum.p == 'BR'"}],
       "mark": {"type": "text", "align": "right", "baseline": "middle", "fontSize": 13, "color": "#231f20"},
       "encoding": {"x": {"datum": 43.0, "type": "quantitative"}, "y": {"field": "r", "type": "quantitative"}, "text": {"field": "g"}}}
    ]
  }
]
}
